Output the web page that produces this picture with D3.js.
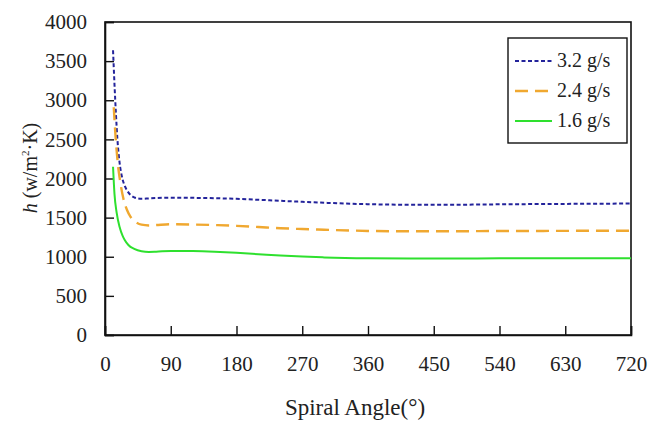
<!DOCTYPE html>
<html>
<head>
<meta charset="utf-8">
<script src="https://cdn.jsdelivr.net/npm/d3@7/dist/d3.min.js"></script>
<style>
  html, body { margin: 0; padding: 0; background: #fff; }
  svg { display: block; }
  text { font-family: "Liberation Serif", "Times New Roman", serif; fill: #222; }
</style>
</head>
<body>
<svg id="chart" width="648" height="423"></svg>
<script>
// Heat transfer coefficient h vs. spiral angle for three mass flow rates
const seriesNames = ["3.2 g/s", "2.4 g/s", "1.6 g/s"];

const angles32 = [11, 13, 15, 17, 20, 23, 26, 30, 35, 40, 45, 50, 60, 70, 90, 120, 150, 180, 210, 240, 270, 300, 360, 420, 480, 540, 600, 660, 720];
const values32 = [3640, 3200, 2820, 2500, 2200, 2030, 1930, 1850, 1790, 1760, 1745, 1740, 1745, 1750, 1755, 1753, 1748, 1740, 1728, 1715, 1702, 1690, 1672, 1665, 1665, 1670, 1674, 1677, 1680];

const angles24 = [12, 14, 16, 18, 20.5, 25, 30, 35, 40, 50, 60, 70, 90, 120, 150, 180, 210, 240, 270, 300, 360, 420, 480, 540, 600, 660, 720];
const values24 = [2910, 2600, 2350, 2150, 1980, 1750, 1600, 1510, 1460, 1410, 1400, 1405, 1415, 1412, 1405, 1395, 1380, 1365, 1354, 1345, 1330, 1325, 1325, 1330, 1330, 1332, 1333];

const angles16 = [11, 13, 16, 20, 24, 27, 32, 40, 50, 60, 70, 90, 120, 150, 180, 210, 240, 270, 300, 360, 420, 480, 540, 600, 660, 720];
const values16 = [2150, 1800, 1560, 1380, 1270, 1215, 1150, 1100, 1070, 1062, 1065, 1075, 1072, 1063, 1050, 1033, 1016, 1002, 992, 981, 978, 978, 980, 980, 980, 980];

const xTicks = [0, 90, 180, 270, 360, 450, 540, 630, 720];
const yTicks = [0, 500, 1000, 1500, 2000, 2500, 3000, 3500, 4000];

const svg = d3.select("#chart");
const margin = { left: 105, right: 17, top: 22, bottom: 88 };
const W = 648, H = 423;
const x = d3.scaleLinear().domain([0, 720]).range([margin.left, W - margin.right]);
const y = d3.scaleLinear().domain([0, 4000]).range([H - margin.bottom, margin.top]);

// frame
svg.append("rect")
  .attr("x", x(0)).attr("y", y(4000))
  .attr("width", x(720) - x(0)).attr("height", y(0) - y(4000))
  .attr("fill", "none").attr("stroke", "#111").attr("stroke-width", 1.6);

// axes with inward ticks
const xAxis = svg.append("g").attr("transform", `translate(0,${y(0)})`)
  .call(d3.axisBottom(x).tickValues(xTicks).tickSize(-9).tickPadding(21).tickFormat(d3.format("d")));
const yAxis = svg.append("g").attr("transform", `translate(${x(0)},0)`)
  .call(d3.axisLeft(y).tickValues(yTicks).tickSize(-9).tickPadding(18).tickFormat(d3.format("d")));
[xAxis, yAxis].forEach(g => {
  g.select(".domain").attr("stroke", "#111").attr("stroke-width", 1.6);
  g.selectAll(".tick line").attr("stroke", "#111").attr("stroke-width", 1.4);
  g.selectAll(".tick text").style("font-size", "21px").attr("fill", "#222");
});

// series lines
const line = d3.line().x(d => x(d[0])).y(d => y(d[1])).curve(d3.curveMonotoneX);
const series = [
  { name: seriesNames[0], xs: angles32, ys: values32, color: "#23239b", dash: "4,2.5", width: 2 },
  { name: seriesNames[1], xs: angles24, ys: values24, color: "#f0a830", dash: "13,7", width: 2.4 },
  { name: seriesNames[2], xs: angles16, ys: values16, color: "#2ee02e", dash: null, width: 2 }
];
series.forEach(s => {
  svg.append("path")
    .datum(s.xs.map((a, i) => [a, s.ys[i]]))
    .attr("d", line)
    .attr("fill", "none")
    .attr("stroke", s.color)
    .attr("stroke-width", s.width)
    .attr("stroke-dasharray", s.dash);
});

// legend
const lg = svg.append("g");
lg.append("rect").attr("x", 508).attr("y", 38).attr("width", 119).attr("height", 105)
  .attr("fill", "#fff").attr("stroke", "#111").attr("stroke-width", 1.4);
series.forEach((s, i) => {
  const cy = 61 + i * 30;
  lg.append("line").attr("x1", 515).attr("x2", 552).attr("y1", cy).attr("y2", cy)
    .attr("stroke", s.color).attr("stroke-width", s.width).attr("stroke-dasharray", s.dash);
  lg.append("text").attr("x", 557).attr("y", cy + 6).style("font-size", "20px").text(s.name);
});

// axis titles
svg.append("text").attr("x", 355).attr("y", 415)
  .attr("text-anchor", "middle").style("font-size", "23px").text("Spiral Angle(°)");

const yt = svg.append("text").attr("transform", `translate(37,168) rotate(-90)`)
  .attr("text-anchor", "middle").style("font-size", "20px");
yt.append("tspan").style("font-style", "italic").text("h");
yt.append("tspan").text(" (w/m");
yt.append("tspan").attr("dy", -8).style("font-size", "11px").text("2");
yt.append("tspan").attr("dy", 8).text("·K)");
</script>
</body>
</html>
